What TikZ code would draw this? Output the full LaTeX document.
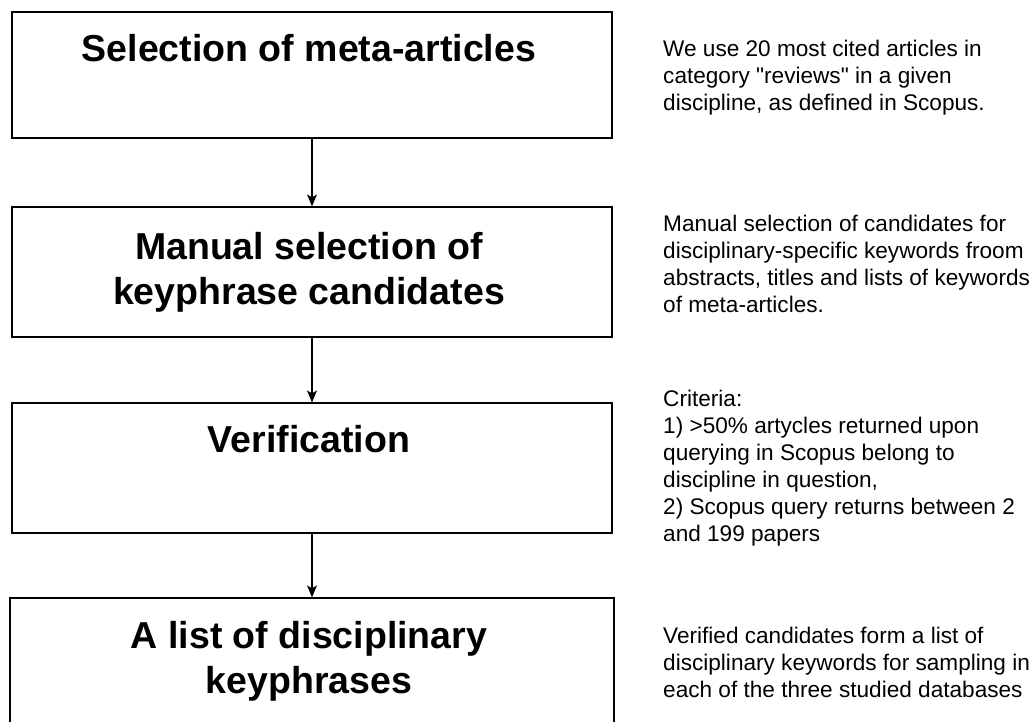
\documentclass[tikz,border=0pt]{standalone}
\usepackage{fontspec}
\setmainfont{Liberation Sans}[Ligatures=TeXOff]
\usetikzlibrary{arrows.meta}
\begin{document}
\begin{tikzpicture}[x=1pt,y=-1pt,
  stepbox/.style={draw=black, line width=1.2pt, rectangle, inner sep=0pt},
  heading/.style={font=\bfseries\fontsize{37.5}{45}\selectfont, align=center, inner sep=0pt, anchor=base},
  note/.style={font=\fontsize{22.6}{27}\selectfont, align=left, inner sep=0pt, anchor=base west},
  flow/.style={draw=black, line width=1.2pt, -{Stealth[length=12pt,width=10pt,inset=3pt]}}]
\useasboundingbox (0,0) rectangle (1035,722);
\clip (0,0) rectangle (1035,722);

% process steps
\node[stepbox, minimum width=600pt, minimum height=126pt] (b1) at (312,75) {};
\node[stepbox, minimum width=600pt, minimum height=130pt] (b2) at (312,272) {};
\node[stepbox, minimum width=600pt, minimum height=130pt] (b3) at (312,468) {};
\node[stepbox, minimum width=604pt, minimum height=130pt] (b4) at (312,663) {};

% step titles (anchored at the baseline of their last line)
\node[heading] (t1) at (309,62) {Selection of meta-articles};
\node[heading] (t2) at (309,304) {Manual selection of\\keyphrase candidates};
\node[heading] (t3) at (309,452) {Verification};
\node[heading] (t4) at (309,693) {A list of disciplinary\\keyphrases};

% flow between steps
\draw[flow] (b1.south) -- (b2.north);
\draw[flow] (b2.south) -- (b3.north);
\draw[flow] (b3.south) -- (b4.north);

% explanations (anchored at the baseline of their last line)
\node[note] (n1) at (663,111) {We use 20 most cited articles in\\category "reviews" in a given\\discipline, as defined in Scopus.};
\node[note] (n2) at (663,312) {Manual selection of candidates for\\disciplinary-specific keywords froom\\abstracts, titles and lists of keywords\\of meta-articles.};
\node[note] (n3) at (663,541) {Criteria:\\1) >50\% artycles returned upon\\querying in Scopus belong to\\discipline in question,\\2) Scopus query returns between 2\\and 199 papers};
\node[note] (n4) at (663,697) {Verified candidates form a list of\\disciplinary keywords for sampling in\\each of the three studied databases};
\end{tikzpicture}
\end{document}
